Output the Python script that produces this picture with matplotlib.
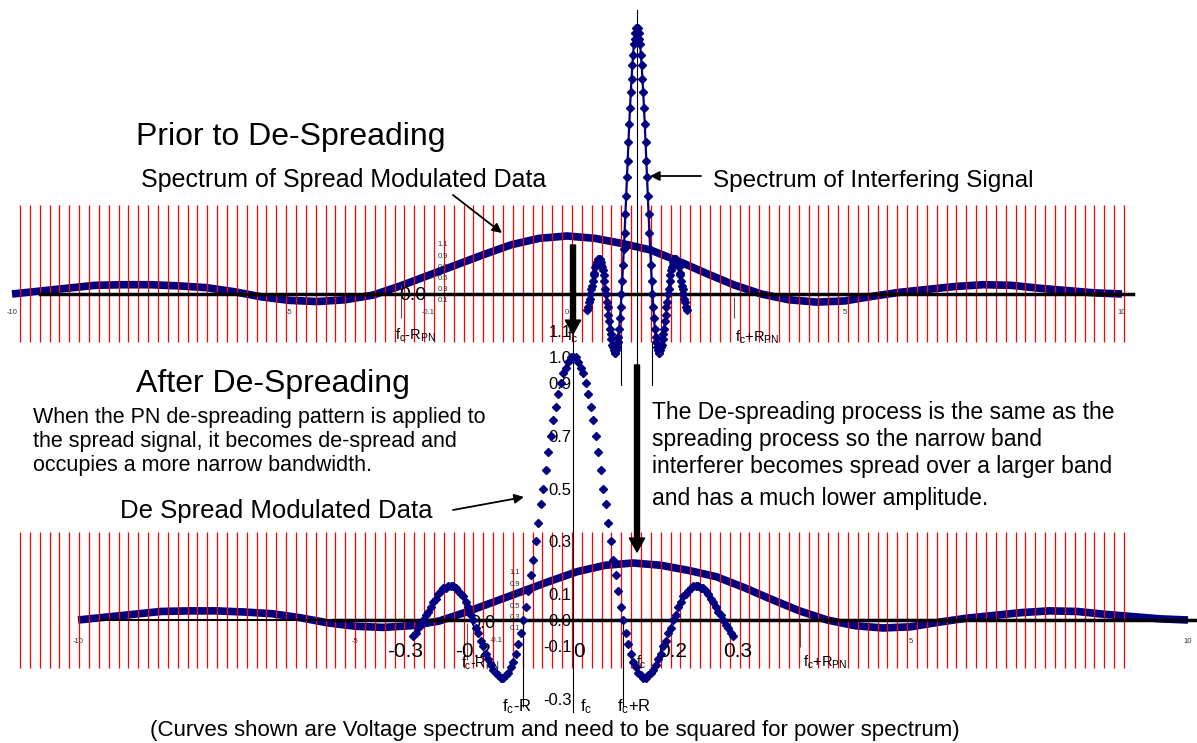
import matplotlib
matplotlib.use("Agg")
import matplotlib.pyplot as plt
from matplotlib.transforms import Affine2D
import numpy as np

W, H = 1197, 743
NAVY = "#000080"

## spread spectrum shape (read at x = -10 .. 10, step 0.5)
spread_x = np.arange(-10, 10.01, 0.5)
spread_v = [0.00, 0.05, 0.10, 0.15, 0.16, 0.16, 0.14, 0.11, 0.04, -0.05,
            -0.11, -0.13, -0.10, -0.02, 0.14, 0.32, 0.50, 0.68, 0.85, 0.96,
            1.00, 0.96, 0.87, 0.76, 0.57, 0.36, 0.16, 0.00, -0.10, -0.14,
            -0.12, -0.04, 0.03, 0.08, 0.13, 0.16, 0.15, 0.10, 0.06, 0.02, 0.00]

## narrow band spectrum (interferer before / data after de-spreading), x = -0.32 .. 0.32
narrow_x = np.linspace(-0.32, 0.32, 129)
narrow_v = [-0.06, -0.05, -0.03, -0.02, 0.00, 0.02, 0.03, 0.05, 0.07, 0.08,
            0.10, 0.11, 0.12, 0.12, 0.13, 0.13, 0.13, 0.12, 0.11, 0.10,
            0.09, 0.07, 0.05, 0.02, 0.00, -0.03, -0.05, -0.08, -0.10, -0.13,
            -0.15, -0.17, -0.19, -0.20, -0.21, -0.22, -0.22, -0.21, -0.20, -0.18,
            -0.16, -0.13, -0.09, -0.05, 0.00, 0.05, 0.11, 0.17, 0.23, 0.30,
            0.37, 0.44, 0.50, 0.57, 0.64, 0.70, 0.76, 0.81, 0.86, 0.90,
            0.94, 0.96, 0.98, 1.00,
            1.00, 1.00, 0.98, 0.96, 0.94, 0.90, 0.86, 0.81, 0.76, 0.70,
            0.64, 0.57, 0.50, 0.44, 0.37, 0.30, 0.23, 0.17, 0.11, 0.05,
            0.00, -0.05, -0.09, -0.13, -0.16, -0.18, -0.20, -0.21, -0.22, -0.22,
            -0.21, -0.20, -0.19, -0.17, -0.15, -0.13, -0.10, -0.08, -0.05, -0.03,
            0.00, 0.02, 0.05, 0.07, 0.09, 0.10, 0.11, 0.12, 0.13, 0.13,
            0.13, 0.12, 0.12, 0.11, 0.10, 0.08, 0.07, 0.05, 0.03, 0.02,
            0.00, -0.02, -0.03, -0.05, -0.06]

spread_ticks = [-10, -5, 0, 5, 10]
spread_ticks_low = [-10, -5, 5, 10]
despread_xticks = [-0.3, -0.2, 0, 0.2, 0.3]
despread_xlabels = ["-0.3", "-0.2", "0", "0.2", "0.3"]
despread_xalign = ["right", "center", "left", "center", "left"]
despread_yticks = [1.1, 1.0, 0.9, 0.7, 0.5, 0.3, 0.1, 0.0, -0.1, -0.3]
small_ylabels = ["1.1", "0.9", "0.7", "0.5", "0.3", "0.1"]

plt.rcParams['font.family'] = ['Liberation Sans', 'DejaVu Sans']
plt.rcParams['axes.unicode_minus'] = False
plt.rcParams['mathtext.fontset'] = 'custom'
plt.rcParams['mathtext.rm'] = 'Liberation Sans'
plt.rcParams['mathtext.it'] = 'Liberation Sans:italic'

fig = plt.figure(figsize=(W / 100, H / 100), dpi=100)
# pixel coords of the picture (origin top left)
PIX = Affine2D().scale(1.0 / W, -1.0 / H).translate(0, 1) + fig.transFigure


## axes whose data origin sits at pixel (cx, cy), sx / sy pixels per unit
def mapped_axes(cx, cy, sx, sy, xlim, ylim, z):
    left = cx + xlim[0] * sx
    right = cx + xlim[1] * sx
    top = cy - ylim[1] * sy
    bottom = cy - ylim[0] * sy
    ax = fig.add_axes([left / W, 1 - bottom / H, (right - left) / W, (bottom - top) / H], zorder=z)
    ax.set_xlim(xlim)
    ax.set_ylim(ylim)
    ax.patch.set_visible(False)
    for s in ax.spines.values():
        s.set_visible(False)
    ax.set_xticks([])
    ax.set_yticks([])
    return ax


grid_px = np.linspace(20, 1124, 113)

########### PRIOR TO DE-SPREADING ################
ax_top = mapped_axes(567, 294, 55.5, 58, (-10.4, 10.6), (-0.9, 1.6), 1)
ax_top.plot(spread_x, spread_v, color=NAVY, lw=5.5, solid_capstyle='butt', zorder=1)
ax_top.vlines(grid_px, 205, 342, transform=PIX, colors='red', lw=0.9, zorder=2, clip_on=False)
ax_top.vlines([-3], -0.41, 0.15, colors='#555555', lw=0.8, zorder=1)
ax_top.vlines([3], -0.41, -0.05, colors='#555555', lw=0.8, zorder=1)
ax_top.spines['bottom'].set_position(('data', 0))
ax_top.set_xticks(spread_ticks)
ax_top.set_xticklabels([str(t) for t in spread_ticks])
ax_top.tick_params(axis='x', length=0, pad=11, labelsize=5.5, labelcolor='#333333')

ax_int = mapped_axes(637, 294, 155, 266, (-3.85, 3.2), (-0.345, 1.068), 4)
for side, lw in (('bottom', 2.5), ('left', 0.8)):
    ax_int.spines[side].set_visible(True)
    ax_int.spines[side].set_position(('data', 0))
    ax_int.spines[side].set_linewidth(lw)
ax_int.plot(narrow_x, narrow_v, '-D', color=NAVY, ms=3.6, lw=1.6, zorder=3)
ax_int.vlines([-0.1, 0.1], -0.345, -0.18, colors='black', lw=0.8)

########### AFTER DE-SPREADING ################
ax_low = mapped_axes(633, 620, 55.5, 57, (-10.4, 10.6), (-0.9, 1.6), 1)
ax_low.plot(spread_x, spread_v, color=NAVY, lw=5.5, solid_capstyle='butt', zorder=1)
ax_low.vlines(grid_px, 532, 668, transform=PIX, colors='red', lw=0.9, zorder=2, clip_on=False)
ax_low.hlines(0, -9.6, 10.6, colors='black', lw=1.5, zorder=3)
ax_low.vlines([-3], -0.7, -0.05, colors='#555555', lw=0.8, zorder=1)
ax_low.vlines([3], -0.47, -0.05, colors='#555555', lw=0.8, zorder=1)
ax_low.spines['bottom'].set_position(('data', 0))
ax_low.set_xticks(spread_ticks_low)
ax_low.set_xticklabels([str(t) for t in spread_ticks_low])
ax_low.tick_params(axis='x', length=0, pad=13, labelsize=5.5, labelcolor='#333333')
# labels that sit under the curves
ax_low.text(483, 623, "0.0", transform=PIX, fontsize=13, ha='center', va='center')
ax_low.text(480, 668, r'f$_\mathrm{c}$-R$_\mathrm{PN}$', transform=PIX, fontsize=10, ha='center', va='baseline')
ax_low.text(636, 667, r'f$_\mathrm{c}$', transform=PIX, fontsize=10, ha='left', va='baseline')
for i, lab in enumerate(small_ylabels):
    ax_low.text(515, 573 + i * 11.2, lab, transform=PIX, fontsize=5.5, color='#333333', ha='center', va='center')
ax_low.text(496, 641, "-0.1", transform=PIX, fontsize=5.5, color='#333333', ha='center', va='center')

ax_de = mapped_axes(573, 620, 500, 263, (-0.48, 1.25), (-0.35, 1.1), 4)
for side, lw in (('bottom', 2.5), ('left', 0.8)):
    ax_de.spines[side].set_visible(True)
    ax_de.spines[side].set_position(('data', 0))
    ax_de.spines[side].set_linewidth(lw)
ax_de.plot(narrow_x, narrow_v, 'D', color=NAVY, ms=4.5, zorder=3)
ax_de.vlines([-0.1, 0.1], -0.33, 0, colors='black', lw=0.8)
ax_de.set_yticks(despread_yticks)
ax_de.set_yticklabels(["%.1f" % t for t in despread_yticks])
ax_de.tick_params(axis='y', length=0, pad=1, labelsize=12)
ax_de.set_xticks(despread_xticks)
ax_de.set_xticklabels(despread_xlabels)
ax_de.tick_params(axis='x', length=0, pad=16, labelsize=15)
for lab, al in zip(ax_de.get_xticklabels(), despread_xalign):
    lab.set_ha(al)

########### TEXT AND ARROWS ################
ax0 = fig.add_axes([0, 0, 1, 1], zorder=10)
ax0.set_xlim(0, W)
ax0.set_ylim(H, 0)
ax0.axis('off')

ax0.text(136, 145, "Prior to De-Spreading", fontsize=23, va='baseline')
ax0.text(141, 187, "Spectrum of Spread Modulated Data", fontsize=18, va='baseline')
ax0.text(713, 187, "Spectrum of Interfering Signal", fontsize=17.5, va='baseline')
ax0.text(136, 392, "After De-Spreading", fontsize=23, va='baseline')
left_par = ["When the PN de-spreading pattern is applied to",
            "the spread signal, it becomes de-spread and",
            "occupies a more narrow bandwidth."]
for line, yb in zip(left_par, [423, 447, 471]):
    ax0.text(33, yb, line, fontsize=15.5, va='baseline')
right_par = ["The De-spreading process is the same as the",
             "spreading process so the narrow band",
             "interferer becomes spread over a larger band",
             "and has a much lower amplitude."]
for line, yb in zip(right_par, [419, 446, 473, 505]):
    ax0.text(652, yb, line, fontsize=16.5, va='baseline')
ax0.text(120, 518, "De Spread Modulated Data", fontsize=18.5, va='baseline')
ax0.text(555, 736, "(Curves shown are Voltage spectrum and need to be squared for power spectrum)",
         fontsize=16, ha='center', va='baseline')

# small labels of the spread chart
for i, lab in enumerate(small_ylabels):
    ax0.text(443, 245 + i * 11.2, lab, fontsize=5.5, color='#333333', ha='center', va='center')
ax0.text(428, 313, "-0.1", fontsize=5.5, color='#333333', ha='center', va='center')
ax0.text(413, 295, "0.0", fontsize=14, ha='center', va='center')
ax0.text(415, 340, r'f$_\mathrm{c}$-R$_\mathrm{PN}$', fontsize=10.5, ha='center', va='baseline')
ax0.text(757, 342, r'f$_\mathrm{c}$+R$_\mathrm{PN}$', fontsize=10.5, ha='center', va='baseline')
ax0.text(825, 667, r'f$_\mathrm{c}$+R$_\mathrm{PN}$', fontsize=10.5, ha='center', va='baseline')
ax0.text(567, 341, r'f$_\mathrm{c}$', fontsize=10.5, ha='left', va='baseline')
ax0.text(517, 711, r'f$_\mathrm{c}$-R', fontsize=12, ha='center', va='baseline')
ax0.text(580, 711, r'f$_\mathrm{c}$', fontsize=12, ha='left', va='baseline')
ax0.text(634, 711, r'f$_\mathrm{c}$+R', fontsize=12, ha='center', va='baseline')

thin = dict(arrowstyle='-|>', color='black', lw=1.3, mutation_scale=14, shrinkA=0, shrinkB=0)
ax0.annotate('', xy=(502, 233), xytext=(453, 195), arrowprops=thin)
ax0.annotate('', xy=(650, 176), xytext=(701, 176), arrowprops=thin)
ax0.annotate('', xy=(524, 497), xytext=(453, 510), arrowprops=thin)
thick = dict(width=3.6, headwidth=11, headlength=10, color='black', shrink=0)
ax0.annotate('', xy=(573, 334), xytext=(573, 245), arrowprops=thick)
ax0.annotate('', xy=(637, 552), xytext=(637, 365), arrowprops=thick)

fig.savefig("out.png", dpi=100)
